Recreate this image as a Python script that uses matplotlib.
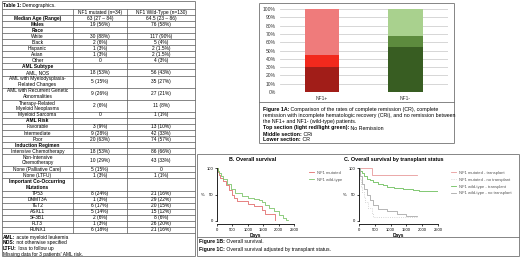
import matplotlib
matplotlib.use("Agg")
from matplotlib import pyplot as plt

plt.rcParams['font.family'] = ['Liberation Sans', 'DejaVu Sans']

W, H = 520, 257

# ---- Table 1 data ----
row_labels = ["Median Age (Range)", "Males", "Race", "White", "Black", "Hispanic", "Asian", "Other",
              "AML Subtype", "AML, NOS", "AML with Myelodysplasia-\nRelated Changes",
              "AML with Recurrent Genetic\nAbnormalities", "Therapy-Related\nMyeloid Neoplasms",
              "Myeloid Sarcoma", "AML Risk", "Favorable", "Intermediate", "Poor", "Induction Regimen",
              "Intensive Chemotherapy", "Non-Intensive\nChemotherapy", "None (Palliative Care)",
              "None (LTFU)", "Important Co-Occurring\nMutations", "TP53", "DNMT3A", "TET2", "ASXL1",
              "SF3B1", "FLT3", "RUNX1"]
mutated_vals = ["63 (27 \u2013 84)", "19 (56%)", "", "30 (88%)", "2 (6%)", "1 (3%)", "1 (3%)", "0",
                "", "18 (53%)", "5 (15%)", "9 (26%)", "2 (6%)", "0", "", "3 (9%)", "9 (28%)",
                "20 (63%)", "", "18 (53%)", "10 (29%)", "5 (15%)", "1 (3%)", "", "8 (24%)",
                "1 (3%)", "6 (17%)", "5 (14%)", "2 (6%)", "1 (3%)", "6 (18%)"]
wildtype_vals = ["64.5 (23 \u2013 86)", "76 (58%)", "", "117 (90%)", "5 (4%)", "2 (1.5%)", "2 (1.5%)",
                 "4 (3%)", "", "56 (43%)", "35 (27%)", "27 (21%)", "11 (8%)", "1 (1%)", "",
                 "13 (10%)", "42 (33%)", "74 (57%)", "", "86 (66%)", "43 (33%)", "0", "1 (1%)", "",
                 "21 (16%)", "29 (22%)", "20 (15%)", "15 (12%)", "8 (6%)", "26 (20%)", "21 (16%)"]
bold_rows = ["Median Age (Range)", "Males", "Race", "AML Subtype", "AML Risk", "Induction Regimen",
             "Important Co-Occurring\nMutations"]
footnotes = [("AML:", " acute myeloid leukemia"), ("NOS:", " not otherwise specified"),
             ("LTFU:", " loss to follow up"), ("", "Missing data for 3 patients' AML risk.")]

# ---- Figure 1A data ----
groups = ["NF1+", "NF1-"]
cr = [30, 54]
cri = [15, 13]
no_remission = [55, 33]

# ---- Figure 1B data (Kaplan-Meier, days / % surviving) ----
b_mut_t = [0, 20, 50, 100, 200, 300, 400, 480, 560, 640, 1000, 1200, 1450, 1550, 1880]
b_mut_s = [100, 92, 86, 82, 76, 68, 58, 50, 44, 38, 33, 28, 21, 14, 0]
b_wt_t = [0, 20, 50, 120, 200, 320, 450, 600, 800, 1000, 1200, 1350, 1450, 1550, 1700, 1850, 2000, 2150, 2250, 2290]
b_wt_s = [100, 95, 90, 85, 80, 70, 60, 52, 47, 44, 42, 40, 35, 30, 25, 18, 12, 6, 2, 2]

# ---- Figure 1C data ----
c_mut_tx_t = [0, 400, 1850]
c_mut_tx_s = [100, 86, 86]
c_mut_no_t = [0, 20, 50, 100, 150, 200, 300, 400, 450, 1850]
c_mut_no_s = [100, 80, 65, 55, 45, 35, 25, 15, 8, 8]
c_wt_tx_t = [0, 30, 80, 150, 250, 350, 450, 600, 750, 900, 1100, 1400, 1700, 1900, 2500]
c_wt_tx_s = [100, 95, 90, 85, 80, 77, 74, 70, 67, 65, 63, 60, 58, 56, 56]
c_wt_no_t = [0, 30, 80, 150, 250, 350, 450, 600, 900, 1200, 1500, 1850]
c_wt_no_s = [100, 85, 70, 60, 50, 40, 30, 22, 18, 14, 10, 10]

fig = plt.figure(figsize=(W / 100, H / 100), dpi=100)
bg = fig.add_axes([0, 0, 1, 1])
bg.set_xlim(0, W)
bg.set_ylim(H, 0)
bg.axis("off")
renderer = fig.canvas.get_renderer()

FS = 3.5
LINE = "#555555"


def px_axes(x0, y0, x1, y1):
    return fig.add_axes([x0 / W, 1 - y1 / H, (x1 - x0) / W, (y1 - y0) / H])


def lead_text(x, y, lead, rest, size=FS, color="black"):
    if lead:
        t = bg.text(x, y, lead, fontsize=size, weight="bold", va="center", ha="left", color=color)
        x += t.get_window_extent(renderer).width
    bg.text(x, y, rest, fontsize=size, va="center", ha="left", color=color)


def hline(x0, x1, y, lw=0.5):
    bg.plot([x0, x1], [y, y], color=LINE, lw=lw, solid_capstyle="butt")


def vline(x, y0, y1, lw=0.5):
    bg.plot([x, x], [y0, y1], color=LINE, lw=lw, solid_capstyle="butt")


# ---- Table ----
cols = [2, 73, 127, 195]
row_h = 6.05
lead_text(3, 5.2, "Table 1:", " Demographics.")
top = 9
hline(cols[0], cols[3], top)
bg.text((cols[1] + cols[2]) / 2, top + row_h / 2, "NF1 mutated (n=34)", fontsize=FS, ha="center", va="center")
bg.text((cols[2] + cols[3]) / 2, top + row_h / 2, "NF1 Wild-Type (n=130)", fontsize=FS, ha="center", va="center")
y = top + row_h
hline(cols[0], cols[3], y)
for lab, m, w in zip(row_labels, mutated_vals, wildtype_vals):
    h = row_h * (lab.count("\n") + 1)
    yc = y + h / 2
    bg.text((cols[0] + cols[1]) / 2, yc, lab, fontsize=FS, ha="center", va="center",
            weight="bold" if lab in bold_rows else "normal", linespacing=1.1)
    bg.text((cols[1] + cols[2]) / 2, yc, m, fontsize=FS, ha="center", va="center")
    bg.text((cols[2] + cols[3]) / 2, yc, w, fontsize=FS, ha="center", va="center")
    y += h
    hline(cols[0], cols[3], y)
for c in cols[1:3]:
    vline(c, top, y)
for i, (lead, rest) in enumerate(footnotes):
    lead_text(3, y + 4.5 + i * 5.6, lead, rest)
vline(cols[0], 1, 256)
vline(cols[3], 1, 256)
hline(cols[0], cols[3], 1)
hline(cols[0], cols[3], 256)

# ---- Figure 1A panel ----
bx0, by0, bx1, by1 = 259, 3, 454, 143
hline(bx0, bx1, by0)
hline(bx0, bx1, by1)
vline(bx0, by0, by1)
vline(bx1, by0, by1)
hline(bx0, bx1, 102)

axA = px_axes(280, 9, 448, 92)
axA.set_facecolor("none")
x = [0, 1]
red = ["#a11d18", "#f2291d", "#ef7b7b"]
green = ["#385d22", "#5d8b3e", "#a9d18e"]
axA.bar(x, cr, width=0.41, color=[red[0], green[0]], zorder=3)
axA.bar(x, cri, bottom=cr, width=0.41, color=[red[1], green[1]], zorder=3)
axA.bar(x, no_remission, bottom=[a + b for a, b in zip(cr, cri)], width=0.41,
        color=[red[2], green[2]], zorder=3)
axA.set_xlim(-0.5, 1.51)
axA.set_ylim(0, 100)
axA.set_yticks(range(0, 101, 10))
axA.set_yticklabels([f"{v}%" for v in range(0, 101, 10)])
axA.set_xticks(x)
axA.set_xticklabels(groups)
axA.yaxis.grid(True, color="#d0d0d0", lw=0.6, zorder=0)
axA.tick_params(length=0, labelsize=3.6, pad=3, colors="#333333")
for s in axA.spines.values():
    s.set_visible(False)

lead_text(263, 109, "Figure 1A:", " Comparison of the rates of complete remission (CR), complete", size=3.8)
lead_text(263, 115, "", "remission with incomplete hematologic recovery (CRi), and no remission between", size=3.8)
lead_text(263, 121, "", "the NF1+ and NF1- (wild-type) patients.", size=3.8)
lead_text(263, 128, "Top section (light red/light green):", " No Remission", size=3.8)
lead_text(263, 134, "Middle section:", " CRi", size=3.8)
lead_text(263, 139.5, "Lower section:", " CR", size=3.8)

# ---- Figures 1B / 1C panel ----
px0, py0, px1, py1 = 197, 154, 519, 256
hline(px0, px1, py0)
hline(px0, px1, py1)
vline(px0, py0, py1)
vline(px1, py0, py1)
hline(px0, px1, 237)
lead_text(199, 241.5, "Figure 1B:", " Overall survival.", size=3.7)
lead_text(199, 249.5, "Figure 1C:", " Overall survival adjusted by transplant status.", size=3.7)
bg.text(253, 159.5, "B. Overall survival", fontsize=3.9, weight="bold", ha="center", va="center")
bg.text(394, 159, "C. Overall survival by transplant status", fontsize=3.9, weight="bold",
        ha="center", va="center")


def km_axes(x0, x1):
    ax = px_axes(x0, 168, x1, 221)
    ax.set_facecolor("none")
    ax.set_xlim(0, 2500)
    ax.set_ylim(0, 100)
    ax.set_xticks(range(0, 2501, 500))
    ax.set_yticks([0, 50, 100])
    ax.spines["top"].set_visible(False)
    ax.spines["right"].set_visible(False)
    ax.spines["bottom"].set_position(("outward", 2.5))
    for s in ("left", "bottom"):
        ax.spines[s].set_linewidth(0.6)
    ax.tick_params(labelsize=3.0, length=1.5, width=0.5, pad=1)
    ax.set_xlabel("Days", fontsize=3.4, weight="bold", labelpad=1)
    ax.set_ylabel("%", fontsize=3.0, rotation=0, labelpad=3, va="center")
    return ax


axB = km_axes(217, 294)
axB.step(b_mut_t, b_mut_s, where="post", color="#e26d6d", lw=0.6, label="NF1 mutated")
axB.step(b_wt_t, b_wt_s, where="post", color="#7cc46a", lw=0.6, label="NF1 wild-type")
axB.legend(loc="upper left", bbox_to_anchor=(1.15, 1.02), frameon=False, fontsize=3.0,
           handlelength=1.2, handletextpad=0.6, labelspacing=0.7, labelcolor="#555555")

axC = km_axes(359, 438)
axC.step(c_mut_tx_t, c_mut_tx_s, where="post", color="#e89a9a", lw=0.6, label="NF1 mutated - transplant")
axC.step(c_mut_no_t, c_mut_no_s, where="post", color="#c8c8c8", lw=0.6, ls=":",
         label="NF1 mutated - no transplant")
axC.step(c_wt_tx_t, c_wt_tx_s, where="post", color="#6cbf5c", lw=0.6, label="NF1 wild-type - transplant")
axC.step(c_wt_no_t, c_wt_no_s, where="post", color="#a8a8a8", lw=0.6,
         label="NF1 wild-type - no transplant")
axC.legend(loc="upper left", bbox_to_anchor=(1.12, 1.02), frameon=False, fontsize=3.0,
           handlelength=1.2, handletextpad=0.6, labelspacing=0.7, labelcolor="#555555")

fig.savefig("out.png", dpi=100)
